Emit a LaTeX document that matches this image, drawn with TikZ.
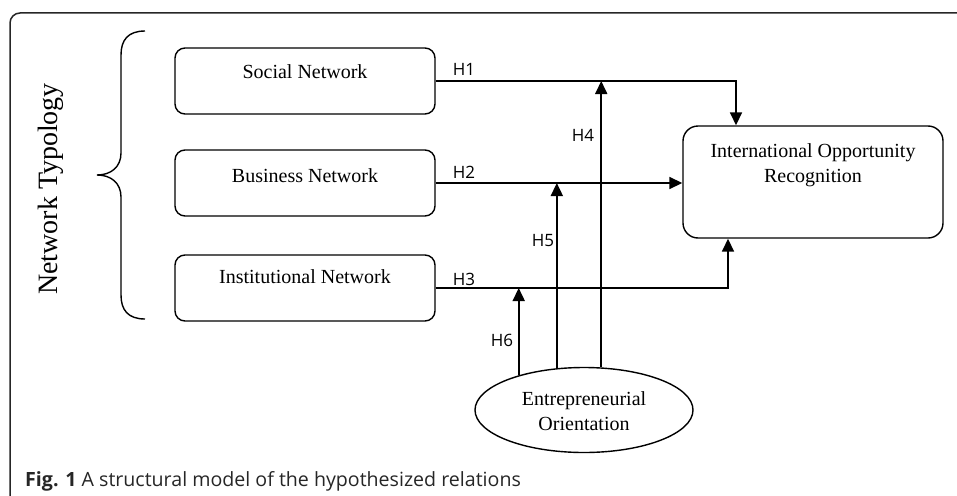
\documentclass[tikz,border=0pt]{standalone}
\usepackage{fontspec}
\setmainfont{Liberation Serif}
\newfontfamily\capfont{Open Sans}
\usetikzlibrary{shapes.geometric,arrows.meta,calc}
\begin{document}
\begin{tikzpicture}[x=1pt,y=-1pt,
  netbox/.style={draw,line width=1.4pt,rounded corners=10pt,minimum width=260pt,minimum height=66pt,inner sep=0pt},
  bigbox/.style={draw,line width=1.4pt,rounded corners=15pt,minimum width=260pt,minimum height=112pt,inner sep=0pt},
  boxtext/.style={font=\fontsize{20}{25}\selectfont,align=center,inner sep=0pt},
  hlab/.style={font=\capfont\fontsize{17}{19}\selectfont,inner sep=0pt},
  arr/.style={line width=1.7pt,-{Triangle[length=13pt,width=12pt]}},
]
\useasboundingbox (0,0) rectangle (957,495);
% frame
\draw[line width=1.5pt,rounded corners=10pt,black!85] (10,500) -- (10,13) -- (962,13);
% brace
\draw[line width=1.4pt] (145,31) .. controls (128,31) and (121,40) .. (121,55) -- (121,153)
  .. controls (121,167) and (111,175) .. (97,175)
  .. controls (111,175) and (121,183) .. (121,197) -- (121,295)
  .. controls (121,310) and (128,319) .. (145,319);
\node[font=\fontsize{28}{32}\selectfont,rotate=90,inner sep=0pt] (nt) at (51,189) {Network Typology};
% boxes
\node[netbox] (sn) at (305,81) {};
\node[boxtext] (snt) at (305,72) {Social Network};
\node[netbox] (bn) at (305,183) {};
\node[boxtext] (bnt) at (305,176) {Business Network};
\node[netbox] (in) at (305,288) {};
\node[boxtext] (int) at (305,277) {Institutional Network};
\node[bigbox] (ior) at (813,182) {};
\node[boxtext] (iort) at (813,165) {International Opportunity\\Recognition};
\node[draw,ellipse,line width=1.4pt,minimum width=218pt,minimum height=85pt,inner sep=0pt] (eo) at (584,410) {};
\node[boxtext] (eot) at (584,411) {Entrepreneurial\\Orientation};
% connectors
\draw[arr] (sn.east) -| ($(ior.north)+(-77,0)$);
\draw[arr] (bn.east) -- (bn.east -| ior.west);
\draw[arr] (in.east) -| ($(ior.south)+(-85,0)$);
\draw[arr] (eo.68) -- (eo.68 |- sn.east);
\draw[arr] (eo.123) -- (eo.123 |- bn.east);
\draw[arr] (eo.152) -- (eo.152 |- in.east);
% labels
\node[hlab] (h1) at (464,69) {H1};
\node[hlab] (h2) at (464,172) {H2};
\node[hlab] (h3) at (464,279) {H3};
\node[hlab] (h4) at (583,135) {H4};
\node[hlab] (h5) at (543,241) {H5};
\node[hlab] (h6) at (502,340) {H6};
% caption
\node[anchor=base west,inner sep=0pt,font=\capfont\fontsize{19.6}{22}\selectfont,text=black!85] (cap) at (25,486) {\textbf{Fig. 1} A structural model of the hypothesized relations};
\end{tikzpicture}
\end{document}
